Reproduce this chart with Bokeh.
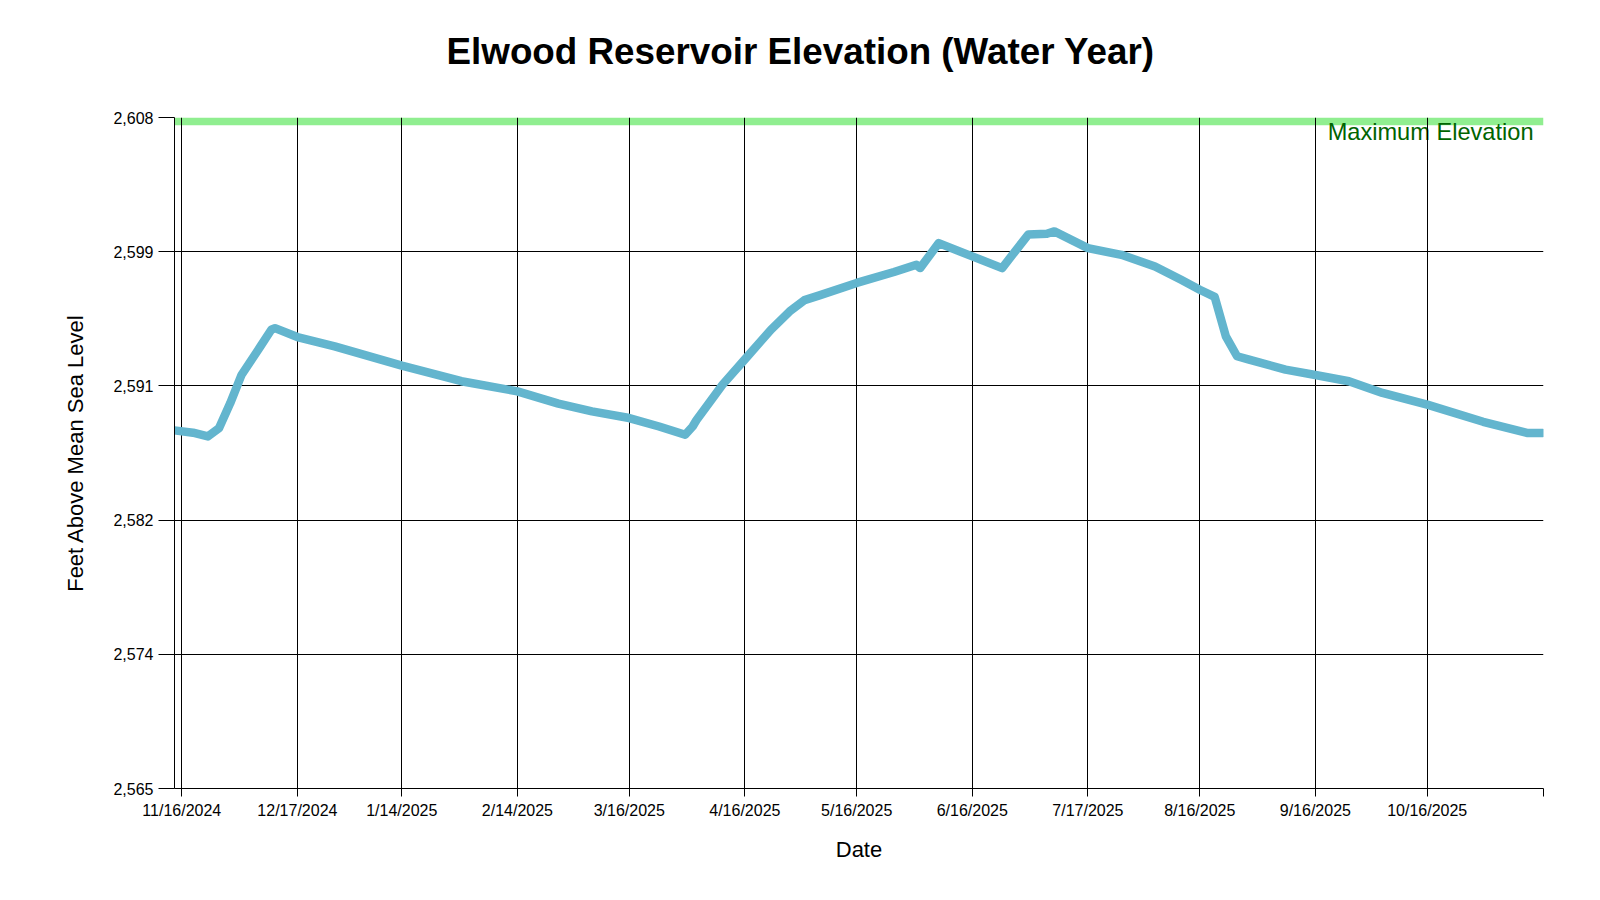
import pandas as pd
from bokeh.plotting import figure
from bokeh.models import (FixedTicker, CustomJSTickFormatter, NumeralTickFormatter,
                          BoxAnnotation, Label, Range1d, Title)
from bokeh.embed import file_html
from bokeh.resources import INLINE

# ---------------- data ----------------
title_text = "Elwood Reservoir Elevation (Water Year)"
dates = [
    "2024-11-14", "2024-11-19", "2024-11-23", "2024-11-26", "2024-11-29",
    "2024-12-02", "2024-12-07", "2024-12-10", "2024-12-11", "2024-12-17",
    "2024-12-27", "2025-01-14", "2025-01-30", "2025-02-14", "2025-02-25",
    "2025-03-06", "2025-03-16", "2025-03-24", "2025-03-31", "2025-04-02",
    "2025-04-03", "2025-04-07", "2025-04-10", "2025-04-16", "2025-04-23",
    "2025-04-28", "2025-05-02", "2025-05-06", "2025-05-16", "2025-05-26",
    "2025-06-01", "2025-06-02", "2025-06-07", "2025-06-16", "2025-06-24",
    "2025-07-01", "2025-07-06", "2025-07-08", "2025-07-17", "2025-07-26",
    "2025-08-04", "2025-08-11", "2025-08-16", "2025-08-20", "2025-08-23",
    "2025-08-26", "2025-08-29", "2025-09-08", "2025-09-16", "2025-09-25",
    "2025-10-04", "2025-10-16", "2025-10-31", "2025-11-12", "2025-11-16",
]
elevation = [
    2587.95, 2587.80, 2587.56, 2588.10, 2589.70,
    2591.50, 2593.30, 2594.40, 2594.50, 2593.93,
    2593.33, 2592.10, 2591.10, 2590.45, 2589.66,
    2589.17, 2588.74, 2588.20, 2587.67, 2588.20,
    2588.60, 2589.90, 2590.87, 2592.50, 2594.40,
    2595.57, 2596.30, 2596.60, 2597.40, 2598.10,
    2598.56, 2598.35, 2599.95, 2599.10, 2598.35,
    2600.50, 2600.55, 2600.70, 2599.63, 2599.20,
    2598.45, 2597.60, 2596.96, 2596.50, 2593.97,
    2592.70, 2592.50, 2591.84, 2591.50, 2591.10,
    2590.35, 2589.60, 2588.50, 2587.78, 2587.78,
]
tick_dates = ["2024-11-16", "2024-12-17", "2025-01-14", "2025-02-14",
              "2025-03-16", "2025-04-16", "2025-05-16", "2025-06-16",
              "2025-07-17", "2025-08-16", "2025-09-16", "2025-10-16"]
y_ticks = [2565, 2573.6, 2582.2, 2590.8, 2599.4, 2608]
y_min, y_max = 2565, 2608
max_elevation = 2608
x_start, x_end = "2024-11-14 01:00", "2025-11-16 04:30"

def ms(s):
    return pd.Timestamp(s).value / 1e6

x_vals = [ms(d) for d in dates]
start_ms, end_ms = ms(x_start), ms(x_end)

FONT = "Liberation Sans"

p = figure(width=1584, height=884, x_axis_type="datetime",
           x_range=Range1d(start_ms, end_ms), y_range=Range1d(y_min, y_max),
           output_backend="svg", toolbar_location=None,
           min_border_left=174, min_border_right=41,
           min_border_top=117, min_border_bottom=96,
           title=title_text)
p.outline_line_color = None
p.background_fill_color = "white"
p.border_fill_color = "white"

# spacer between frame and title (nearest the frame)
p.add_layout(Title(text=" ", text_font_size="1px", standoff=43), "above")

p.title.text_font = FONT
p.title.text_font_size = "36.8px"
p.title.text_font_style = "bold"
p.title.text_color = "black"
p.title.align = "left"
p.title.offset = 272
p.title.standoff = 0

# max elevation band + label (below grid)
band = BoxAnnotation(top=max_elevation, bottom=max_elevation - 0.49,
                     fill_color="#90EE90", fill_alpha=1.0, line_alpha=0, level="image")
p.add_layout(band)
lbl = Label(x=end_ms, y=max_elevation, text="Maximum Elevation",
            x_offset=-10, y_offset=-1, text_align="right", text_baseline="top",
            text_font=FONT, text_font_size="23.6px", text_color="#006400", level="image")
p.add_layout(lbl)

p.line(x_vals, elevation, line_color="#63B5CE", line_width=8.5,
       line_join="round", line_cap="round")

# axes
xt = [ms(d) for d in tick_dates] + [end_ms]
p.xaxis.ticker = FixedTicker(ticks=xt, minor_ticks=[])
p.xaxis.formatter = CustomJSTickFormatter(args=dict(endv=end_ms - 1), code="""
    if (tick >= endv) return "";
    const d = new Date(tick);
    return (d.getUTCMonth() + 1) + "/" + d.getUTCDate() + "/" + d.getUTCFullYear();
""")
p.yaxis.ticker = FixedTicker(ticks=y_ticks, minor_ticks=[])
p.yaxis.formatter = NumeralTickFormatter(format="0,0")

for ax in (p.xaxis[0], p.yaxis[0]):
    ax.axis_line_color = "black"
    ax.axis_line_width = 1
    ax.major_tick_line_color = "black"
    ax.major_tick_in = 0
    ax.minor_tick_line_color = None
    ax.major_label_text_font = FONT
    ax.major_label_text_font_size = "16px"
    ax.major_label_text_color = "black"
    ax.axis_label_text_font = FONT
    ax.axis_label_text_font_size = "22px"
    ax.axis_label_text_font_style = "normal"
    ax.axis_label_text_color = "black"

p.xaxis.axis_label = "Date"
p.xaxis.major_tick_out = 8
p.xaxis.major_label_standoff = 5
p.xaxis.axis_label_standoff = 15
p.yaxis.axis_label = "Feet Above Mean Sea Level"
p.yaxis.major_tick_out = 16
p.yaxis.major_label_standoff = 5
p.yaxis.axis_label_standoff = 22

for g in (p.xgrid[0], p.ygrid[0]):
    g.grid_line_color = "black"
    g.grid_line_width = 1
    g.grid_line_alpha = 1.0

open("out.html", "w").write(file_html(p, INLINE))
